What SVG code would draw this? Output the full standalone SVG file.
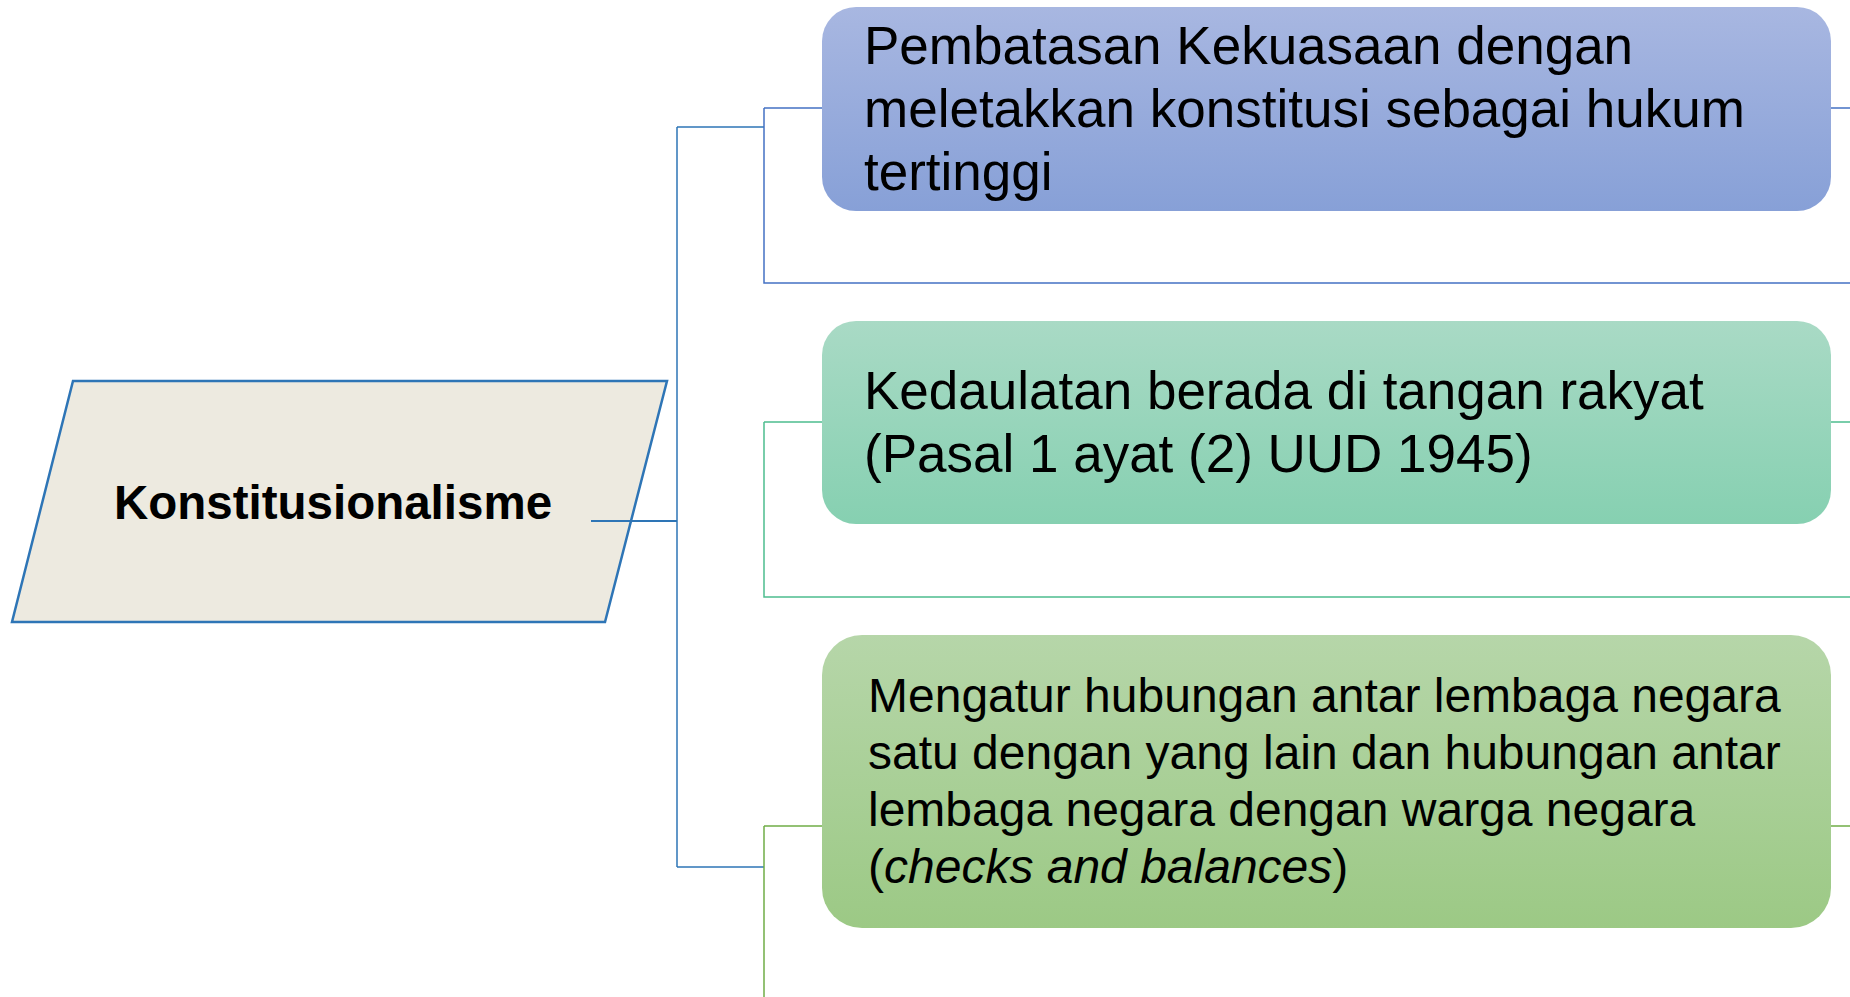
<svg xmlns="http://www.w3.org/2000/svg" width="1850" height="997" viewBox="0 0 1850 997">
<defs>
<linearGradient id="g1" x1="0" y1="0" x2="0" y2="1"><stop offset="0" stop-color="#A8B7E1"/><stop offset="1" stop-color="#87A0D7"/></linearGradient>
<linearGradient id="g2" x1="0" y1="0" x2="0" y2="1"><stop offset="0" stop-color="#A9DAC5"/><stop offset="1" stop-color="#86D0B1"/></linearGradient>
<linearGradient id="g3" x1="0" y1="0" x2="0" y2="1"><stop offset="0" stop-color="#B6D6A9"/><stop offset="1" stop-color="#9CC985"/></linearGradient>
</defs>
<style>
.t{font-family:"Liberation Sans",Arial,sans-serif;fill:#000}
.b1{font-size:53px}
.b3{font-size:48px}
.ln{fill:none;stroke-width:1.5}
</style>
<rect width="1850" height="997" fill="#FFFFFF"/>
<g id="connectors">
<path class="ln" stroke="#2E75B6" stroke-width="2" d="M591,521 H677 M677,127 V867 M677,127 H764 M677,867 H764"/>
<path class="ln" stroke="#4472C4" d="M764,108 H823 M764,108 V283 H1850 M1831,108 H1850"/>
<path class="ln" stroke="#4DBD8F" d="M764,422 H823 M764,422 V597 H1850 M1831,422 H1850"/>
<path class="ln" stroke="#70AD47" d="M764,826 H823 M764,826 V997 M1831,826 H1850"/>
</g>
<g id="root">
<polygon points="73,381 667,381 605,622 12,622" fill="#EDEAE0" stroke="#2E75B6" stroke-width="2.5"/>
<text class="t" x="333" y="519" font-size="47.5" font-weight="bold" text-anchor="middle">Konstitusionalisme</text>
<line x1="591" y1="521" x2="677" y2="521" stroke="#2E75B6" stroke-width="2"/>
</g>
<g id="node1">
<rect x="822" y="7" width="1009" height="204" rx="34" fill="url(#g1)"/>
<text class="t b1" x="864"><tspan x="864" y="64">Pembatasan Kekuasaan dengan</tspan><tspan x="864" y="127">meletakkan konstitusi sebagai hukum</tspan><tspan x="864" y="190">tertinggi</tspan></text>
</g>
<g id="node2">
<rect x="822" y="321" width="1009" height="203" rx="34" fill="url(#g2)"/>
<text class="t b1"><tspan x="864" y="409">Kedaulatan berada di tangan rakyat</tspan><tspan x="864" y="472">(Pasal 1 ayat (2) UUD 1945)</tspan></text>
</g>
<g id="node3">
<rect x="822" y="635" width="1009" height="293" rx="40" fill="url(#g3)"/>
<text class="t b3"><tspan x="868" y="712">Mengatur hubungan antar lembaga negara</tspan><tspan x="868" y="769">satu dengan yang lain dan hubungan antar</tspan><tspan x="868" y="826">lembaga negara dengan warga negara</tspan><tspan x="868" y="883">(<tspan font-style="italic">checks and balances</tspan>)</tspan></text>
</g>
</svg>
